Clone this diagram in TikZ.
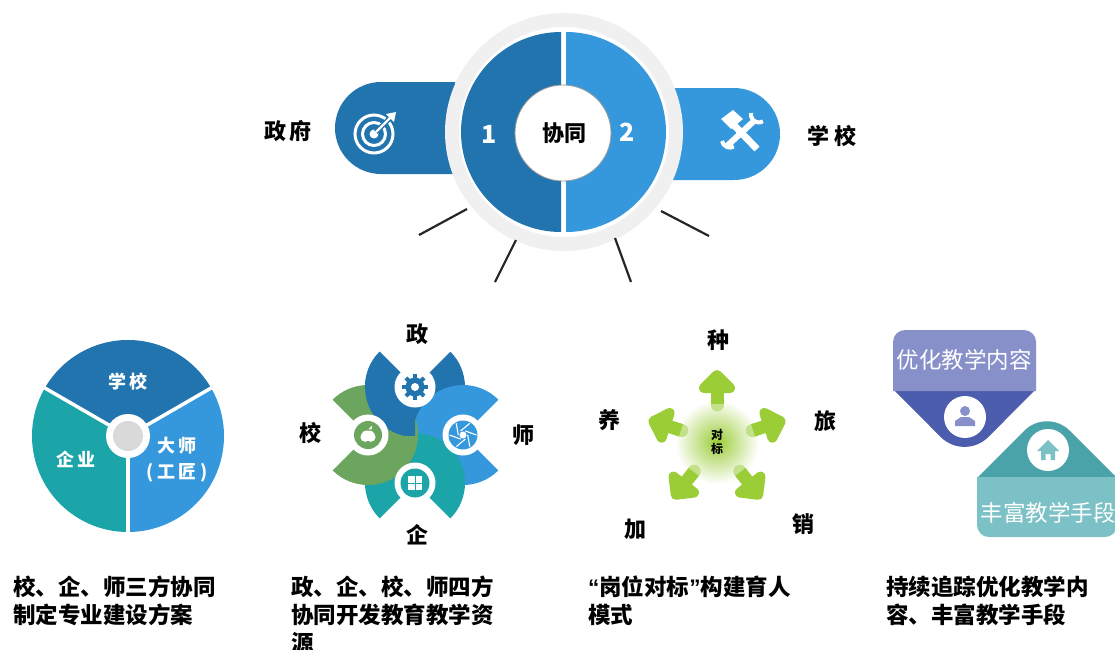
\documentclass[tikz,border=0pt]{standalone}
\usepackage{fontspec}
\setmainfont{Noto Sans CJK SC}
\newfontfamily\quotefont{Liberation Sans}
\usepackage{xcolor}
\definecolor{darkblue}{HTML}{2274AE}
\definecolor{lightblue}{HTML}{3698DC}
\definecolor{tealgreen}{HTML}{1BA5A9}
\definecolor{leafgreen}{HTML}{6CA65E}
\definecolor{arrowgreen}{HTML}{9BCD37}
\definecolor{arrowpale}{HTML}{C3E08A}
\definecolor{cardviolet}{HTML}{8790C9}
\definecolor{carddeep}{HTML}{4D5DAE}
\definecolor{cardaqua}{HTML}{7CC1C5}
\definecolor{cardsea}{HTML}{4AA3A9}
\tikzset{
	bigword/.style={font=\fontsize{22}{22}\selectfont\bfseries, text=black},
	pieword/.style={font=\fontsize{18}{26}\selectfont\bfseries, text=white, align=center},
	caption/.style={font=\fontsize{22.5}{28}\selectfont\bfseries, text=black, align=left, anchor=north west, inner sep=0pt},
	cardword/.style={font=\fontsize{22.5}{23}\selectfont, text=white, inner sep=0pt},
	spoke/.style={line width=2.2pt, color=black!85},
}
\begin{document}
\begin{tikzpicture}[x=1pt,y=-1pt]
	\useasboundingbox (0,0) rectangle (1115,649);

	%% Top circle with the two pills
	\fill[darkblue] (455,82) -- (381,82) arc[start angle=90,end angle=270,radius=46pt] -- (455,174) -- cycle;
	\fill[lightblue] (670,88) -- (734,88) arc[start angle=90,end angle=-90,radius=46pt] -- (670,180) -- cycle;
	\draw[line width=14pt, draw=black!6, fill=white] (564,132) circle (112pt);
	\fill[darkblue] (561,32) arc[start angle=90,end angle=270,radius=100pt] -- cycle;
	\fill[lightblue] (566,32) arc[start angle=90,end angle=-90,radius=100pt] -- cycle;
	\draw[fill=white, draw=black!40, line width=0.8pt] (563,133) circle (48pt);
	\node[bigword] (hub) at (564,133) {协同};
	\node[font=\fontsize{25}{25}\selectfont\bfseries, text=white] (one) at (489,134) {1};
	\node[font=\fontsize{25}{25}\selectfont\bfseries, text=white] (two) at (627,132) {2};
	\node[bigword] (gov) at (288,131) {政\hspace{4pt}府};
	\node[bigword] (school) at (832,136) {学\hspace{6pt}校};

	% target icon
	\draw[white, line width=3pt] (374,134) circle (19pt);
	\draw[white, line width=3pt] (374,134) circle (11.5pt);
	\fill[white] (374,134) circle (4.5pt);
	\draw[darkblue, line width=5pt] (376,132) -- (394,114);
	\draw[white, line width=2.4pt] (376,132) -- (392,116);
	\fill[white] (396,112) -- (394,122) -- (390,118) -- (386,114) -- cycle;

	% tools icon
	\draw[white, line width=7pt] (730,121) -- (757,149);
	\fill[white] (721,119) -- (733,110) -- (743,119) -- (731,129) -- cycle;
	\draw[white, line width=6pt] (727,146) -- (755,120);
	\draw[white, line width=4pt] (751,113) arc[start angle=170,end angle=300,radius=8pt];
	\draw[white, line width=4pt] (722,141) arc[start angle=190,end angle=300,radius=8pt];

	%% Spokes
	\coordinate (a1) at (467,209);
	\coordinate (a2) at (419,235);
	\coordinate (b1) at (516,240);
	\coordinate (b2) at (495,282);
	\coordinate (c1) at (615,238);
	\coordinate (c2) at (631,282);
	\coordinate (d1) at (661,211);
	\coordinate (d2) at (709,236);
	\draw[spoke] (a1) -- (a2);
	\draw[spoke] (b1) -- (b2);
	\draw[spoke] (c1) -- (c2);
	\draw[spoke] (d1) -- (d2);

	%% Pie
	\begin{scope}[shift={(128,436)}]
		\fill[darkblue] (0,0) -- (30:96pt) arc[start angle=30,end angle=150,radius=96pt] -- cycle;
		\fill[tealgreen] (0,0) -- (150:96pt) arc[start angle=150,end angle=270,radius=96pt] -- cycle;
		\fill[lightblue] (0,0) -- (270:96pt) arc[start angle=270,end angle=390,radius=96pt] -- cycle;
		\foreach \ang in {30,150,270}
			\draw[white, line width=3.5pt] (0,0) -- (\ang:98pt);
		\fill[white] (0,0) circle (22pt);
		\fill[black!15] (0,0) circle (15pt);
	\end{scope}
	\node[pieword] (pschool) at (128,382) {学\hspace{3pt}校};
	\node[pieword] (pfirm) at (76,459) {企\hspace{3pt}业};
	\node[pieword] (pmaster) at (177,460) {大\hspace{3pt}师\\( 工\hspace{3pt}匠 )};

	%% Flower
	\foreach \cx/\cy/\ang/\col in {415/387/90/darkblue, 463/435/0/lightblue, 415/483/270/tealgreen, 368/435/180/leafgreen}
		\fill[\col] (\cx,\cy) -- ++(\ang+45:50pt) arc[start angle=\ang+45,end angle=\ang+315,radius=50pt] -- cycle;
	\begin{scope}
		\clip (340,330) rectangle (415,435);
		\fill[darkblue] (415,387) -- ++(135:50pt) arc[start angle=135,end angle=405,radius=50pt] -- cycle;
	\end{scope}
	\foreach \cx/\cy in {415/387, 463/435, 415/483, 368/435}
		\fill[white] (\cx,\cy) circle (20.5pt);

	% gear
	\fill[darkblue] (415,387) circle (9.5pt);
	\foreach \ang in {0,45,...,315}
		\draw[darkblue, line width=4pt] (415,387) ++(\ang:8pt) -- ++(\ang:4.8pt);
	\fill[white] (415,387) circle (4pt);

	% aperture
	\fill[lightblue] (463,435) circle (14.5pt);
	\foreach \ang in {0,60,...,300}
		\draw[white, line width=1.1pt] (463,435) ++(\ang:13.5pt) -- ++(\ang+160:12pt);
	\fill[white] (463,435) circle (3.5pt);

	% apple
	\fill[leafgreen] (368,435) circle (14pt);
	\fill[white] (365.2,437) circle (4.8pt);
	\fill[white] (370.8,437) circle (4.8pt);
	\fill[white] (368,434) ellipse (6.5pt and 3.5pt);
	\fill[white] (368.5,429) -- (372,425.5) -- (371.5,429.5) -- cycle;

	% windows
	\fill[tealgreen] (415,483) circle (14.5pt);
	\foreach \dx/\dy in {-7/-7, 0.5/-7, -7/0.5, 0.5/0.5}
		\fill[white] (415+\dx,483+\dy) rectangle ++(6.5,6.5);

	\node[bigword] (fgov) at (417,334) {政};
	\node[bigword] (fmaster) at (523,435) {师};
	\node[bigword] (ffirm) at (417,535) {企};
	\node[bigword] (fschool) at (310,433) {校};

	%% Five arrows
	\shade[inner color=arrowgreen, outer color=white] (717,442) circle (42pt);
	\foreach \ang in {90,18,-52,-128,162}
	{
		\begin{scope}[shift={(717,442)}, rotate=\ang, yscale=-1]
			\draw[arrowpale, line width=13pt, line cap=round] (37,0) -- (38,0);
			\draw[arrowgreen, line width=13pt] (38,0) -- (56,0);
			\fill[arrowgreen, draw=arrowgreen, line width=10pt, line join=round] (67,0) -- (54,-13) -- (54,13) -- cycle;
		\end{scope}
	}
	\node[font=\fontsize{12}{14}\selectfont\bfseries, text=black, align=center, inner sep=0pt] (dui) at (717,442) {对\\标};
	\node[bigword] (zhong) at (718,340) {种};
	\node[bigword] (lv) at (825,421) {旅};
	\node[bigword] (xiao) at (803,524) {销};
	\node[bigword] (jia) at (635,529) {加};
	\node[bigword] (yang) at (609,420) {养};

	%% Two cards
	\fill[carddeep] (893,389) -- (1036,389) [rounded corners=34pt] -- (964.5,461) [sharp corners] -- cycle;
	\fill[cardviolet] (893,391) [rounded corners=12pt] -- (893,330) -- (1036,330) [sharp corners] -- (1036,391) -- cycle;
	\fill[white] (965,417) circle (21pt);
	\fill[cardviolet] (965,411) circle (5pt);
	\fill[cardviolet] (955,426) -- (955,421) -- (961,417) -- (969,417) -- (975,421) -- (975,426) -- cycle;
	\node[cardword] (teach) at (964,360) {优化教学内容};

	\fill[cardsea] (977,478) -- (1117,478) [rounded corners=32pt] -- (1047,408) [sharp corners] -- cycle;
	\fill[cardaqua] (977,477) [rounded corners=12pt] -- (977,537) -- (1117,537) [sharp corners] -- (1117,477) -- cycle;
	\fill[white] (1048,450) circle (21pt);
	\fill[cardaqua] (1037,451) -- (1048,440) -- (1059,451) -- (1055,451) -- (1055,460) -- (1050.5,460) -- (1050.5,454) -- (1045.5,454) -- (1045.5,460) -- (1041,460) -- (1041,451) -- cycle;
	\node[cardword] (means) at (1048,513) {丰富教学手段};

	%% Captions
	\node[caption] (capa) at (13,576) {校、企、师三方协同\\制定专业建设方案};
	\node[caption] (capb) at (291,576) {政、企、校、师四方\\协同开发教育教学资\\源};
	\node[caption] (capc) at (588,576) {{\quotefont “}岗位对标{\quotefont ”}构建育人\\模式};
	\node[caption] (capd) at (886,576) {持续追踪优化教学内\\容、丰富教学手段};
\end{tikzpicture}
\end{document}
